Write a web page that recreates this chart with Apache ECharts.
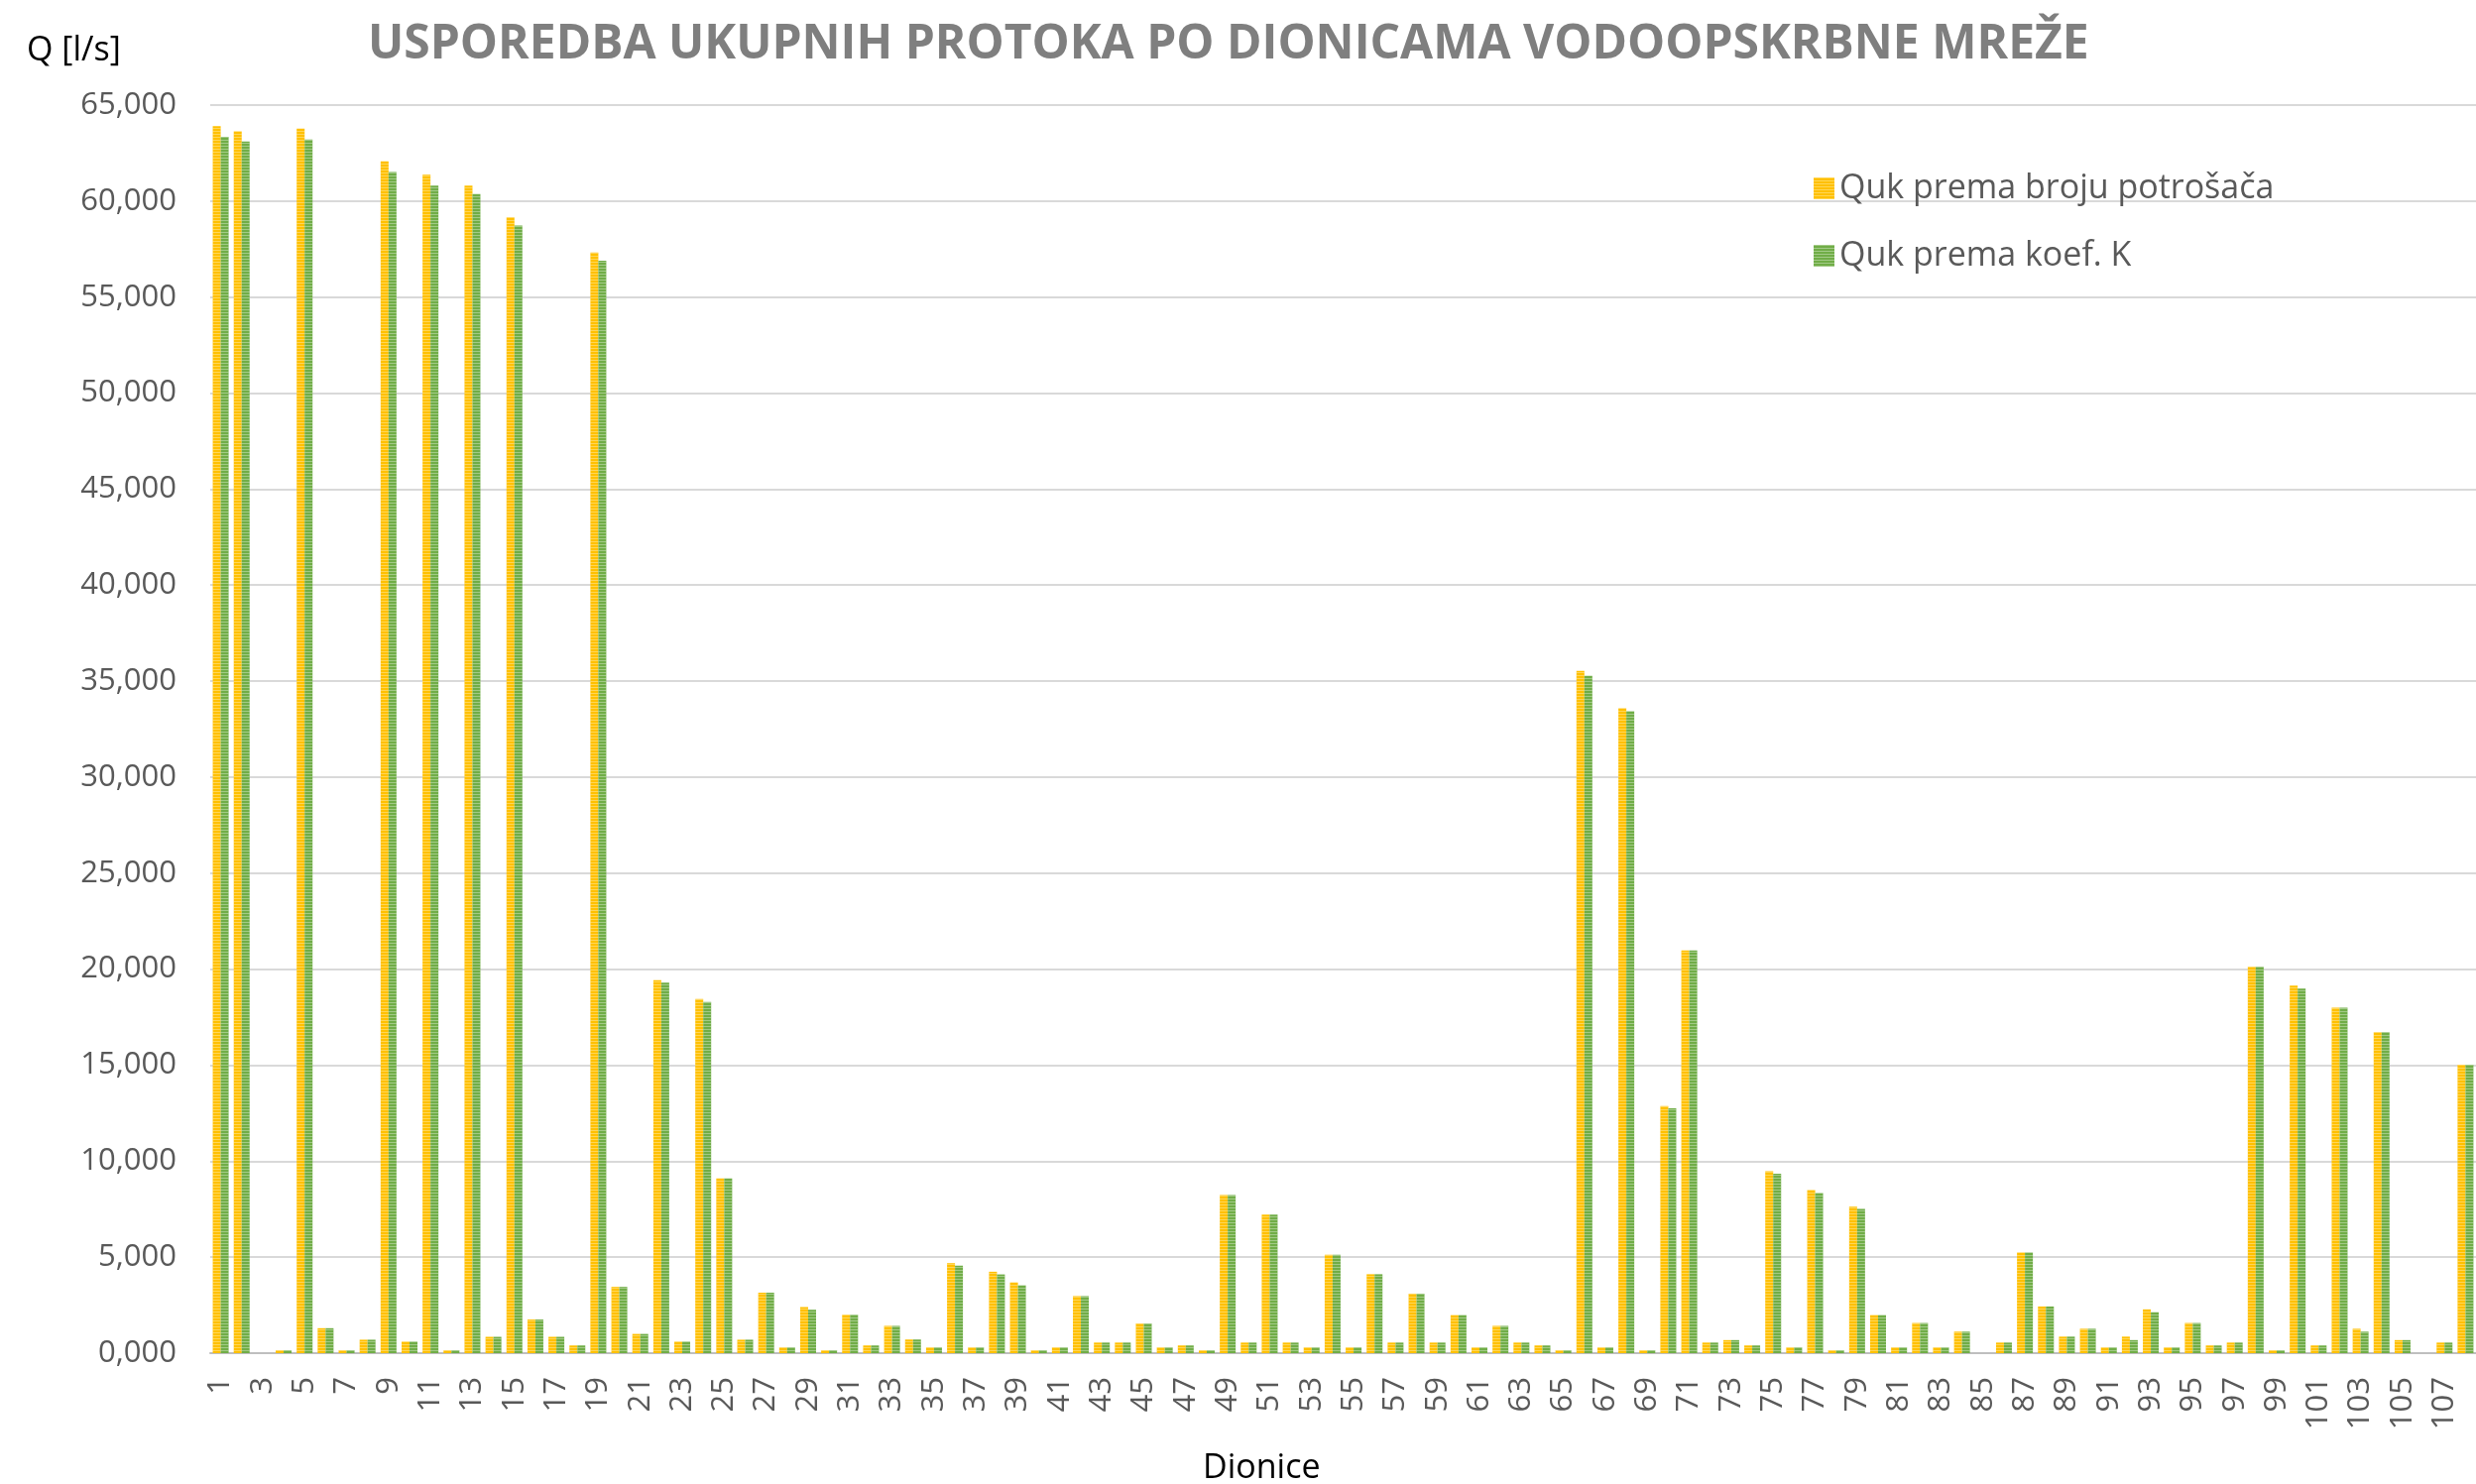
<!DOCTYPE html>
<html>
<head>
<meta charset="utf-8">
<script src="https://cdn.jsdelivr.net/npm/echarts@6/dist/echarts.min.js"></script>
<style>
  html, body { margin: 0; padding: 0; background: #fff; }
  #chart { width: 2497px; height: 1497px; }
</style>
</head>
<body>
<div id="chart"></div>
<script>
// dionice 1..108
var categories = Array.from({ length: 108 }, function (_, i) { return String(i + 1); });

// Quk prema broju potrošača
var qukPotrosaci = [
    63900, 63630, 0, 150, 63780, 1300, 150, 700, 62070, 600,
    61370, 150, 60800, 850, 59150, 1750, 850, 400, 57320, 3450,
    1000, 19420, 600, 18450, 9100, 700, 3150, 300, 2400, 150,
    2000, 400, 1420, 710, 300, 4680, 300, 4240, 3680, 150,
    300, 2970, 550, 550, 1550, 300, 400, 150, 8240, 550,
    7210, 550, 300, 5120, 300, 4110, 550, 3100, 550, 1980,
    300, 1420, 550, 400, 150, 35530, 300, 33580, 150, 12870,
    20980, 550, 680, 400, 9470, 300, 8490, 150, 7630, 1980,
    300, 1570, 300, 1120, 0, 550, 5240, 2430, 860, 1270,
    300, 860, 2280, 300, 1570, 400, 550, 20120, 150, 19140,
    400, 17990, 1270, 16720, 680, 0, 550, 15030
];

// Quk prema koef. K
var qukKoef = [
    63350, 63100, 0, 150, 63200, 1300, 150, 700, 61520, 600,
    60800, 150, 60360, 850, 58730, 1750, 850, 400, 56900, 3450,
    1000, 19290, 600, 18290, 9100, 700, 3150, 300, 2260, 150,
    2000, 400, 1420, 710, 300, 4550, 300, 4100, 3530, 150,
    300, 2970, 550, 550, 1550, 300, 400, 150, 8240, 550,
    7210, 550, 300, 5120, 300, 4110, 550, 3100, 550, 1980,
    300, 1420, 550, 400, 150, 35270, 300, 33430, 150, 12750,
    20980, 550, 680, 400, 9350, 300, 8340, 150, 7510, 1980,
    300, 1570, 300, 1120, 0, 550, 5240, 2430, 860, 1270,
    300, 680, 2130, 300, 1570, 400, 550, 20120, 150, 18990,
    400, 17990, 1120, 16720, 680, 0, 550, 15030
];

var yTickLabels = ['0,000', '5,000', '10,000', '15,000', '20,000', '25,000', '30,000',
    '35,000', '40,000', '45,000', '50,000', '55,000', '60,000', '65,000'];

var seriesNames = ['Quk prema broju potrošača', 'Quk prema koef. K'];

var chart = echarts.init(document.getElementById('chart'));

// prugasti uzorak na stupcima
var stripes = {
    symbol: 'rect',
    symbolSize: 1,
    dashArrayX: [1, 0],
    dashArrayY: [1, 2],
    rotation: 0,
    color: 'rgba(255,255,255,0.35)'
};

var option = {
    animation: false,
    textStyle: { fontFamily: 'Open Sans' },
    title: [
        {
            text: 'USPOREDBA UKUPNIH PROTOKA PO DIONICAMA VODOOPSKRBNE MREŽE',
            left: 366,
            top: 16,
            textStyle: { fontSize: 48, fontWeight: 'bold', color: '#7f7f7f', fontFamily: 'Open Sans' }
        },
        {
            text: 'Q [l/s]',
            left: 22,
            top: 29,
            textStyle: { fontSize: 34, fontWeight: 'normal', color: '#000', fontFamily: 'Open Sans' }
        },
        {
            text: 'Dionice',
            left: 1208,
            top: 1459,
            textStyle: { fontSize: 34, fontWeight: 'normal', color: '#000', fontFamily: 'Open Sans' }
        }
    ],
    legend: {
        orient: 'vertical',
        left: 1824,
        top: 168,
        itemWidth: 21,
        itemHeight: 22,
        itemGap: 34,
        icon: 'rect',
        textStyle: { fontSize: 34, color: '#595959', fontFamily: 'Open Sans', lineHeight: 34 },
        data: seriesNames
    },
    grid: {
        left: 212,
        right: 0,
        top: 106,
        bottom: 132
    },
    xAxis: {
        type: 'category',
        data: categories,
        axisTick: { show: false },
        axisLine: { lineStyle: { color: '#bfbfbf', width: 2 } },
        axisLabel: {
            interval: 1,
            rotate: 90,
            margin: 24,
            fontSize: 31,
            color: '#595959',
            fontFamily: 'Open Sans'
        }
    },
    yAxis: {
        type: 'value',
        min: 0,
        max: 65000,
        interval: 5000,
        axisLine: { show: false },
        axisTick: { show: false },
        splitLine: { lineStyle: { color: '#d9d9d9', width: 2 } },
        axisLabel: {
            margin: 34,
            fontSize: 31,
            color: '#595959',
            fontFamily: 'Open Sans',
            formatter: function (v) { return yTickLabels[Math.round(v / 5000)]; }
        }
    },
    series: [
        {
            name: seriesNames[0],
            type: 'bar',
            barWidth: 8,
            barGap: '0%',
            itemStyle: { color: '#ffc000', decal: stripes },
            data: qukPotrosaci
        },
        {
            name: seriesNames[1],
            type: 'bar',
            barWidth: 8,
            itemStyle: { color: '#70ad47', decal: stripes },
            data: qukKoef
        }
    ]
};

chart.setOption(option);
</script>
</body>
</html>
